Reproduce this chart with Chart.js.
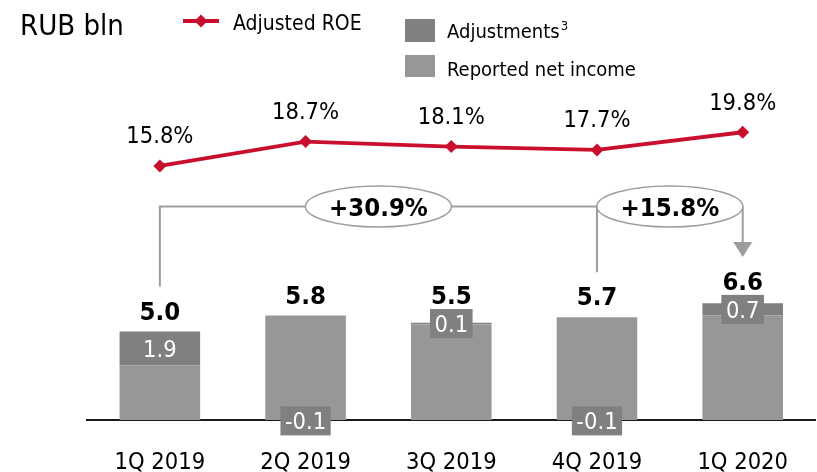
<!DOCTYPE html>
<html>
<head>
<meta charset="utf-8">
<script src="https://cdn.jsdelivr.net/npm/chart.js@4/dist/chart.umd.min.js"></script>
<style>
  html, body { margin: 0; padding: 0; background: #fff; }
  #wrap { width: 817px; height: 472px; position: relative; }
</style>
</head>
<body>
<div id="wrap"><canvas id="c" width="817" height="472"></canvas></div>
<script>
// Quarterly net income (RUB bln) and adjusted ROE
const categories = ['1Q 2019', '2Q 2019', '3Q 2019', '4Q 2019', '1Q 2020'];
const reportedNetIncome = [3.1, 5.9, 5.4, 5.8, 5.9];
const adjustments = [1.9, -0.1, 0.1, -0.1, 0.7];
const adjustedNetIncome = [5.0, 5.8, 5.5, 5.7, 6.6];
const adjustedRoe = [15.8, 18.7, 18.1, 17.7, 19.8];

// Growth call-outs: from quarter index -> to quarter index
const growthLabels = ['+30.9%', '+15.8%'];
const growthFrom = [0, 3];
const growthTo = [4, 4];

const FONT = '"DejaVu Sans Condensed", "DejaVu Sans", sans-serif';
const RED = '#C8102E';
const LIGHT = '#979797';
const DARK = '#808080';
const CONNECTOR = '#9d9d9d';

Chart.defaults.font.family = FONT;

const annotate = {
  id: 'annotate',
  afterDatasetsDraw(chart, args, opts) {
    const ctx = chart.ctx;
    const xs = chart.scales.x, ys = chart.scales.y;
    const lineMeta = chart.getDatasetMeta(2);
    ctx.save();
    ctx.textAlign = 'center';
    ctx.textBaseline = 'alphabetic';

    // ROE value labels above each point
    ctx.font = '23.5px ' + FONT;
    ctx.fillStyle = '#000';
    lineMeta.data.forEach((pt, i) => {
      ctx.fillText(adjustedRoe[i].toFixed(1) + '%', pt.x, pt.y - 22.5);
    });

    // adjustment boxes and adjusted totals
    const totalBase = [];
    categories.forEach((c, i) => {
      const x = xs.getPixelForValue(i);
      const lo = adjustments[i] >= 0 ? reportedNetIncome[i] : 0;
      const hi = lo + adjustments[i];
      const cy = ys.getPixelForValue((lo + hi) / 2);
      const txt = adjustments[i].toFixed(1);
      ctx.font = '23.5px ' + FONT;
      const w = ctx.measureText(txt).width + 9, h = 29;
      ctx.fillStyle = DARK;
      ctx.fillRect(x - w / 2, cy - h / 2, w, h);
      ctx.fillStyle = '#fff';
      ctx.fillText(txt, x, cy + 8.5);

      const top = ys.getPixelForValue(reportedNetIncome[i] + Math.max(adjustments[i], 0));
      const boxTop = cy - h / 2;
      const base = boxTop < top ? boxTop - 5 : top - 12;
      ctx.font = 'bold 25.5px ' + FONT;
      ctx.fillStyle = '#000';
      ctx.fillText(adjustedNetIncome[i].toFixed(1), x, base);
      totalBase.push(base);
    });

    // growth connectors
    const by = opts.bracketY;
    ctx.strokeStyle = CONNECTOR;
    ctx.fillStyle = CONNECTOR;
    ctx.lineWidth = 2;
    const arrowsDone = {};
    growthLabels.forEach((lbl, k) => {
      const xf = xs.getPixelForValue(growthFrom[k]);
      const xt = xs.getPixelForValue(growthTo[k]);
      ctx.beginPath();
      ctx.moveTo(xf, totalBase[growthFrom[k]] - 33);
      ctx.lineTo(xf, by);
      ctx.lineTo(xt, by);
      ctx.stroke();
      if (!arrowsDone[growthTo[k]]) {
        arrowsDone[growthTo[k]] = true;
        const tip = totalBase[growthTo[k]] - 33;
        ctx.beginPath();
        ctx.moveTo(xt, by);
        ctx.lineTo(xt, tip - 14);
        ctx.stroke();
        ctx.beginPath();
        ctx.moveTo(xt - 9.5, tip - 15);
        ctx.lineTo(xt + 9.5, tip - 15);
        ctx.lineTo(xt, tip);
        ctx.closePath();
        ctx.fill();
      }
    });
    growthLabels.forEach((lbl, k) => {
      const slot = opts.labelSlots[k];
      const a = xs.getPixelForValue(Math.floor(slot));
      const b = xs.getPixelForValue(Math.ceil(slot));
      const cx = a + (b - a) * (slot - Math.floor(slot));
      ctx.beginPath();
      ctx.ellipse(cx, by, 73, 20.5, 0, 0, Math.PI * 2);
      ctx.fillStyle = '#fff';
      ctx.fill();
      ctx.lineWidth = 1.5;
      ctx.strokeStyle = CONNECTOR;
      ctx.stroke();
      ctx.font = 'bold 25.5px ' + FONT;
      ctx.fillStyle = '#000';
      ctx.fillText(lbl, cx, by + 9.2);
    });
    ctx.restore();
  },
  afterDraw(chart) {
    const ctx = chart.ctx;
    const ds = chart.data.datasets;
    ctx.save();
    ctx.textAlign = 'left';
    ctx.textBaseline = 'alphabetic';
    ctx.fillStyle = '#000';
    ctx.font = '29px ' + FONT;
    ctx.fillText('RUB bln', 20, 35);

    // line legend
    ctx.strokeStyle = RED;
    ctx.lineWidth = 4;
    ctx.beginPath();
    ctx.moveTo(183, 21);
    ctx.lineTo(219, 21);
    ctx.stroke();
    ctx.fillStyle = RED;
    ctx.beginPath();
    ctx.moveTo(201, 14.5); ctx.lineTo(207.5, 21); ctx.lineTo(201, 27.5); ctx.lineTo(194.5, 21);
    ctx.closePath();
    ctx.fill();
    ctx.fillStyle = '#000';
    ctx.font = '21px ' + FONT;
    ctx.fillText(ds[2].label, 233, 30);

    // bar legends
    ctx.fillStyle = DARK;
    ctx.fillRect(405, 19, 30, 23);
    ctx.fillStyle = LIGHT;
    ctx.fillRect(405, 55, 30, 22);
    ctx.fillStyle = '#000';
    ctx.font = '20px ' + FONT;
    ctx.fillText(ds[1].label, 447, 37.5);
    const w = ctx.measureText(ds[1].label).width;
    ctx.font = '13px ' + FONT;
    ctx.fillText('3', 447 + w + 1, 30);
    ctx.font = '20px ' + FONT;
    ctx.fillText(ds[0].label, 447, 76);
    ctx.restore();
  }
};

new Chart(document.getElementById('c'), {
  data: {
    labels: categories,
    datasets: [
      {
        type: 'bar', label: 'Reported net income', data: reportedNetIncome,
        backgroundColor: LIGHT, yAxisID: 'y', order: 2,
        categoryPercentage: 1, barPercentage: 0.553
      },
      {
        type: 'bar', label: 'Adjustments', data: adjustments,
        backgroundColor: DARK, yAxisID: 'y', order: 2,
        categoryPercentage: 1, barPercentage: 0.553
      },
      {
        type: 'line', label: 'Adjusted ROE', data: adjustedRoe,
        borderColor: RED, backgroundColor: RED, borderWidth: 3.8,
        pointStyle: 'rectRot', pointRadius: 6.5, pointBorderWidth: 0,
        yAxisID: 'y2', order: 1, tension: 0
      }
    ]
  },
  options: {
    responsive: false,
    animation: false,
    devicePixelRatio: 1,
    layout: { autoPadding: false, padding: { left: 87, right: 0, top: 101.4, bottom: 0 } },
    plugins: {
      legend: { display: false },
      tooltip: { enabled: false },
      annotate: { bracketY: 206.5, labelSlots: [1.5, 3.5] }
    },
    scales: {
      x: {
        stacked: true,
        grid: { display: false, drawTicks: false },
        border: { display: true, color: '#1a1a1a', width: 2 },
        ticks: { color: '#000', font: { size: 23.5 }, padding: 29, maxRotation: 0 },
        afterFit(scale) { scale.height = 52; }
      },
      y: { stacked: true, display: false, min: 0, max: 18 },
      y2: { axis: 'y', display: false, min: -14.33, max: 23.46 }
    }
  },
  plugins: [annotate]
});
</script>
</body>
</html>
